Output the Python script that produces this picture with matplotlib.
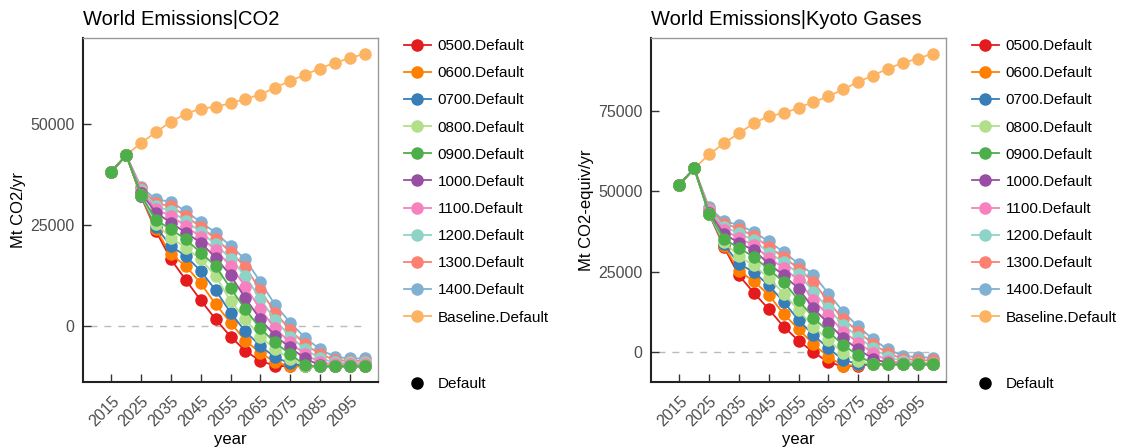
import matplotlib
matplotlib.use("Agg")
import matplotlib.pyplot as plt
from matplotlib.lines import Line2D

plt.rcParams['font.family'] = ['Liberation Sans', 'DejaVu Sans']

years = [2015, 2020, 2025, 2030, 2035, 2040, 2045, 2050, 2055, 2060,
         2065, 2070, 2075, 2080, 2085, 2090, 2095, 2100]
xticks = [2015, 2025, 2035, 2045, 2055, 2065, 2075, 2085, 2095]

scenarios = ['0500.Default', '0600.Default', '0700.Default', '0800.Default',
             '0900.Default', '1000.Default', '1100.Default', '1200.Default',
             '1300.Default', '1400.Default', 'Baseline.Default']
colors = ['#E41A1C', '#FF7F00', '#377EB8', '#B2DF8A', '#4DAF4A', '#984EA3',
          '#F781BF', '#8DD3C7', '#FB8072', '#80B1D3', '#FDB462']

co2 = {
    '0500.Default': [38100, 42200, 32000, 23450, 16460, 11350, 6340, 1650, -2620, -6170,
                     -8640, -9870, -10000, -10000, -10000, -10000, -10000, -10000],
    '0600.Default': [38100, 42200, 32100, 23860, 17690, 14810, 10540, 5360, 840, -3700,
                     -6580, -9030, -9870, -10000, -10000, -10000, -10000, -10000],
    '0700.Default': [38100, 42200, 32200, 24430, 19740, 17280, 13580, 8810, 3300, -1380,
                     -4940, -7800, -9200, -10000, -10000, -10000, -10000, -10000],
    '0800.Default': [38100, 42200, 32300, 25270, 21800, 19340, 16460, 12340, 6170, 1650,
                     -2620, -5750, -8220, -9870, -10000, -10000, -10000, -10000],
    '0900.Default': [38100, 42200, 32300, 26200, 23860, 21400, 18110, 14810, 9300, 4120,
                     -640, -4100, -6980, -9700, -10000, -10000, -10000, -10000],
    '1000.Default': [38100, 42200, 32800, 27980, 25510, 23040, 20570, 16880, 12510, 6840,
                     1650, -2470, -5330, -8050, -9700, -9870, -10000, -10000],
    '1100.Default': [38100, 42200, 33200, 28800, 27150, 24680, 21960, 18760, 14810, 9720,
                     4120, -640, -4100, -6980, -9030, -9450, -9450, -9450],
    '1200.Default': [38100, 42200, 33600, 29620, 28380, 25910, 23200, 20160, 16620, 12340,
                     6590, 1480, -2620, -5750, -8050, -9030, -9030, -9030],
    '1300.Default': [38100, 42200, 34000, 30280, 29610, 27150, 24430, 21560, 18270, 14560,
                     8810, 3300, -990, -4520, -6980, -8380, -8640, -8640],
    '1400.Default': [38100, 42200, 34300, 31270, 30700, 28300, 25680, 23040, 19740, 16460,
                     10860, 5180, 840, -2880, -5750, -7630, -8050, -8050],
    'Baseline.Default': [38100, 42200, 45260, 47880, 50520, 52400, 53730, 54140, 55040, 56110,
                         57180, 58910, 60560, 62100, 63620, 65070, 66140, 67300],
}

kyoto = {
    '0500.Default': [52080, 57150, 43000, 32700, 23900, 18500, 13400, 7950, 3600, 0,
                     -3100, -4400, -4200, -3800, -3800, -3800, -3800, -3800],
    '0600.Default': [52080, 57150, 43000, 33000, 25400, 22000, 17900, 11900, 7200, 2500,
                     -1400, -4200, -4000, -3800, -3800, -3800, -3800, -3800],
    '0700.Default': [52080, 57150, 43000, 33500, 27500, 24900, 20800, 15700, 10000, 5350,
                     1240, -2370, -3700, -3800, -3800, -3800, -3800, -3800],
    '0800.Default': [52080, 57150, 43000, 34300, 29800, 27000, 23100, 18250, 13100, 7950,
                     3800, -310, -2800, -3800, -3800, -3800, -3800, -3800],
    '0900.Default': [52080, 57150, 43000, 35200, 32400, 29600, 25770, 21870, 16180, 10740,
                     6400, 2270, -1000, -3600, -3800, -3800, -3800, -3800],
    '1000.Default': [52080, 57150, 43400, 36800, 34000, 31660, 27540, 23920, 19800, 13610,
                     8970, 4330, 900, -2000, -3400, -3800, -3800, -3800],
    '1100.Default': [52080, 57150, 43800, 38000, 35500, 33200, 29300, 26210, 22370, 16180,
                     11540, 6400, 3000, -300, -2600, -3400, -3600, -3600],
    '1200.Default': [52080, 57150, 44200, 39000, 37000, 34750, 30940, 28050, 24440, 18780,
                     13610, 8450, 4800, 1200, -1500, -2800, -3200, -3200],
    '1300.Default': [52080, 57150, 44600, 40000, 38400, 36110, 32700, 29600, 25990, 21870,
                     15690, 10310, 6400, 2600, -400, -2000, -2500, -2500],
    '1400.Default': [52080, 57150, 45000, 40800, 39500, 37400, 34440, 31150, 27540, 24130,
                     18250, 12600, 8000, 4000, 900, -1100, -1600, -1700],
    'Baseline.Default': [52080, 57150, 61480, 64980, 68070, 71160, 73430, 74260, 76020, 77760,
                         79520, 81680, 84060, 86010, 88180, 89950, 91270, 92820],
}

panels = [
    ('World Emissions|CO2', 'Mt CO2/yr', co2, [0, 25000, 50000]),
    ('World Emissions|Kyoto Gases', 'Mt CO2-equiv/yr', kyoto, [0, 25000, 50000, 75000]),
]

draw_order = ['Baseline.Default', '1400.Default', '1300.Default', '1200.Default',
              '1100.Default', '1000.Default', '0500.Default', '0600.Default',
              '0700.Default', '0800.Default', '0900.Default']
cmap = dict(zip(scenarios, colors))

W, H = 1131, 448
fig = plt.figure(figsize=(W / 100, H / 100), dpi=100)

ax_lefts = [83, 651]
ax_w, ax_top, ax_bot = 295, 38, 382
MS = 8

for (title, ylabel, data, yticks), axl in zip(panels, ax_lefts):
    ax = fig.add_axes([axl / W, (H - ax_bot) / H, ax_w / W, (ax_bot - ax_top) / H])
    for z, s in enumerate(draw_order):
        ax.plot(years, data[s], color=cmap[s], marker='o', markersize=MS,
                linewidth=1.3, zorder=3 + z)
    vals = [v for s in scenarios for v in data[s]]
    vmin, vmax = min(vals), max(vals)
    r = vmax - vmin
    ax.set_ylim(vmin - 0.05 * r, vmax + 0.05 * r)
    ax.set_xlim(2005.5, 2104.5)
    ax.axhline(0, xmin=0.024, xmax=0.963, color='#BBBBBB', linestyle=(0, (5, 5)),
               linewidth=1.0, zorder=1)
    ax.set_xticks(xticks)
    ax.set_xticklabels([str(t) for t in xticks], rotation=45, ha='right',
                       rotation_mode='anchor')
    ax.set_yticks(yticks)
    ax.tick_params(direction='in', length=6, width=1, color='#333333',
                   labelsize=11.5, labelcolor='#4D4D4D')
    ax.tick_params(axis='x', pad=8)
    ax.tick_params(axis='y', pad=6)
    for sp in ['left', 'bottom']:
        ax.spines[sp].set_color('#222222')
        ax.spines[sp].set_linewidth(1.5)
    for sp in ['top', 'right']:
        ax.spines[sp].set_color('#9A9A9A')
        ax.spines[sp].set_linewidth(1.0)
    ax.set_title(title, loc='left', fontsize=14.5, pad=9, x=0.0)
    ax.set_xlabel('year', fontsize=12, labelpad=2)
    ax.set_ylabel(ylabel, fontsize=12, labelpad=3)

    lx = (ax_w + 20) / ax_w
    handles = [Line2D([], [], color=cmap[s], marker='o', markersize=MS, linewidth=1.3)
               for s in scenarios]
    leg = ax.legend(handles, scenarios, loc='upper left',
                    bbox_to_anchor=(lx, 1.0145),
                    frameon=False, fontsize=11, handlelength=1.75,
                    labelspacing=0.86, handletextpad=0.45, borderaxespad=0)
    ax.add_artist(leg)
    h2 = [Line2D([], [], color='black', marker='o', markersize=MS, linewidth=0)]
    ax.legend(h2, ['Default'], loc='upper left',
              bbox_to_anchor=(lx, 0.032),
              frameon=False, fontsize=11, handlelength=1.75,
              handletextpad=0.45, borderaxespad=0)

fig.savefig('out.png', dpi=100)
